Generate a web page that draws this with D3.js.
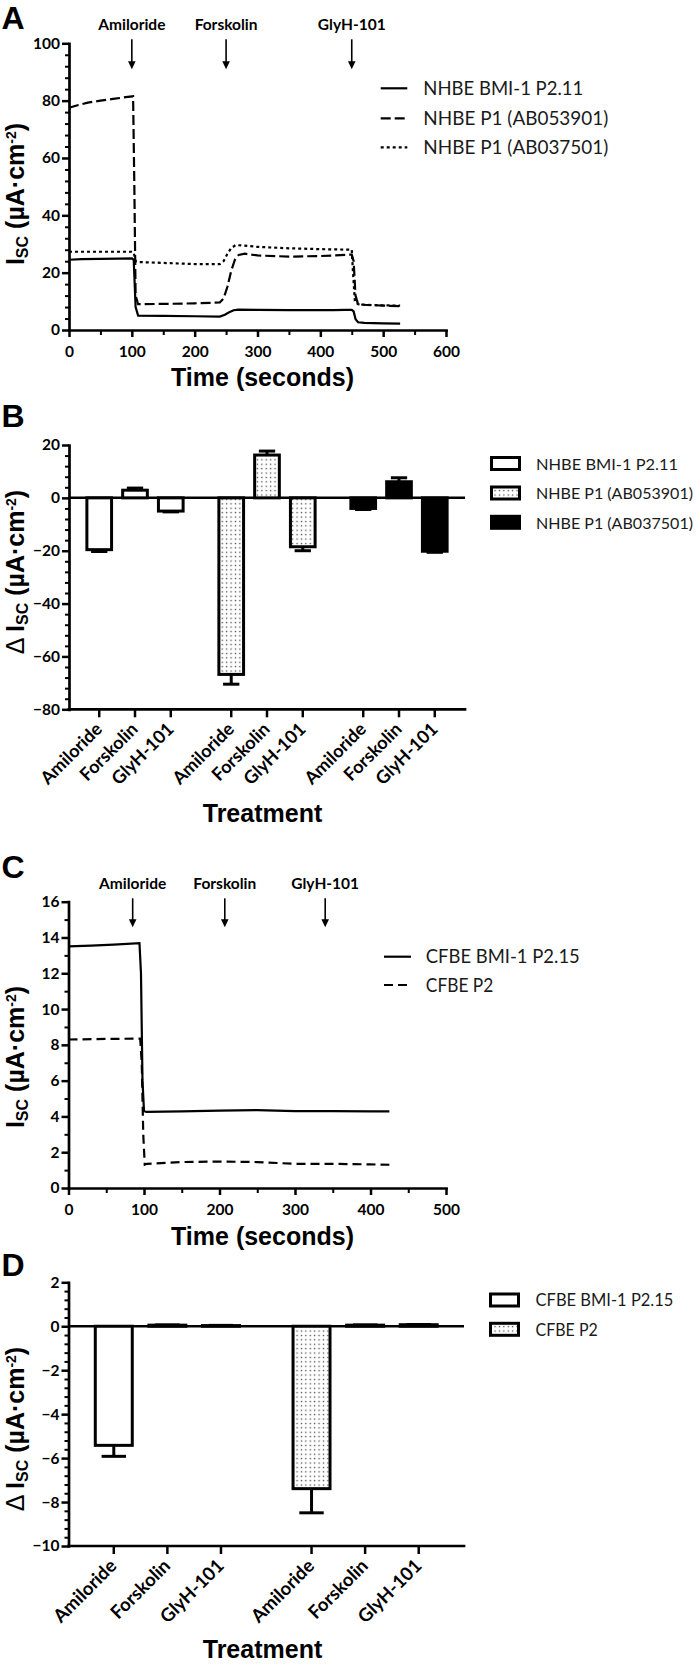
<!DOCTYPE html>
<html><head><meta charset="utf-8">
<script src="https://cdn.jsdelivr.net/npm/d3@7"></script>
<style>
html,body{margin:0;padding:0;background:#fff;}
svg{display:block;}
</style></head><body>
<script>
// ================= DATA =================
const treatments = ["Amiloride", "Forskolin", "GlyH-101"];

// Panel A : Isc traces (time in s, Isc in µA·cm-2)
const seriesA = ["NHBE BMI-1 P2.11", "NHBE P1 (AB053901)", "NHBE P1 (AB037501)"];
const tA_bmi = [0, 20, 50, 80, 100, 103, 106, 110, 150, 200, 240, 248, 255, 262, 270, 300, 350, 400, 420, 440, 450, 453, 456, 460, 470, 500, 527];
const vA_bmi = [24.5, 24.7, 24.8, 24.9, 25.0, 24.5, 8, 5.0, 4.9, 4.8, 4.7, 5.3, 6.2, 6.9, 7.1, 7.0, 6.9, 6.9, 6.9, 7.0, 7.0, 6.5, 3.8, 2.7, 2.5, 2.3, 2.2];
const tA_053 = [0, 15, 30, 50, 70, 90, 102, 104, 106, 110, 150, 200, 240, 246, 252, 258, 264, 270, 280, 300, 350, 400, 440, 450, 453, 456, 460, 470, 500, 527];
const vA_053 = [77.5, 78.5, 79.3, 80.0, 80.6, 81.2, 81.5, 50, 12, 9.0, 9.1, 9.3, 9.6, 11, 15, 20.5, 24.5, 26.2, 26.6, 26.0, 25.6, 25.8, 26.2, 26.3, 24, 12, 9.0, 8.8, 8.5, 8.3];
const tA_037 = [0, 50, 100, 103, 106, 110, 150, 200, 240, 246, 252, 258, 265, 275, 300, 350, 400, 450, 452, 455, 460, 470, 500, 527];
const vA_037 = [27.3, 27.3, 27.3, 27.0, 24.0, 23.7, 23.4, 23.0, 23.0, 24.0, 26.5, 28.5, 29.6, 29.5, 29.0, 28.5, 28.2, 28.0, 20, 10, 9.0, 8.8, 8.6, 8.5];
const eventsA = [100, 250, 450];
const ticksA_x = [0, 100, 200, 300, 400, 500, 600];
const ticksA_y = [0, 20, 40, 60, 80, 100];

// Panel B : ΔIsc bars
const seriesB = ["NHBE BMI-1 P2.11", "NHBE P1 (AB053901)", "NHBE P1 (AB037501)"];
const meanB_bmi = [-19.6, 2.9, -5.0];
const errB_bmi  = [0.7, 0.8, 0.3];
const meanB_053 = [-66.8, 16.2, -18.5];
const errB_053  = [3.7, 1.5, 1.5];
const meanB_037 = [-4.0, 6.1, -20.2];
const errB_037  = [0.4, 1.5, 0.4];
const ticksB_y = [-80, -60, -40, -20, 0, 20];

// Panel C : Isc traces
const seriesC = ["CFBE BMI-1 P2.15", "CFBE P2"];
const tC_bmi = [0, 30, 60, 94, 96, 98, 100, 103, 150, 200, 250, 300, 350, 400, 425];
const vC_bmi = [13.5, 13.55, 13.6, 13.68, 12, 6, 4.3, 4.25, 4.28, 4.32, 4.35, 4.3, 4.3, 4.28, 4.28];
const tC_p2 = [0, 50, 95, 97, 99, 101, 104, 150, 200, 250, 300, 350, 400, 425];
const vC_p2 = [8.3, 8.33, 8.35, 7, 3, 1.3, 1.35, 1.45, 1.48, 1.45, 1.35, 1.35, 1.32, 1.3];
const eventsC = [85, 207, 340];
const ticksC_x = [0, 100, 200, 300, 400, 500];
const ticksC_y = [0, 2, 4, 6, 8, 10, 12, 14, 16];

// Panel D : ΔIsc bars
const seriesD = ["CFBE BMI-1 P2.15", "CFBE P2"];
const meanD_bmi = [-5.42, 0.05, 0.03];
const errD_bmi  = [0.5, 0.01, 0.01];
const meanD_p2  = [-7.39, 0.05, 0.07];
const errD_p2   = [1.1, 0.01, 0.01];
const ticksD_y = [-10, -8, -6, -4, -2, 0, 2];

// ================= DRAWING =================
const W = 697, H = 1665;
const SANS = "Lato, 'Open Sans', sans-serif";
const ARIAL = "'Liberation Sans', Arial, Helvetica, sans-serif";
const svg = d3.select("body").append("svg").attr("width", W).attr("height", H)
  .attr("viewBox", `0 0 ${W} ${H}`);
svg.append("rect").attr("width", W).attr("height", H).attr("fill", "#fff");

const defs = svg.append("defs");
const pat = defs.append("pattern").attr("id", "dots").attr("width", 4.4).attr("height", 4.4)
  .attr("patternUnits", "userSpaceOnUse");
pat.append("rect").attr("width", 4.4).attr("height", 4.4).attr("fill", "#fff");
pat.append("rect").attr("x", 1.6).attr("y", 1.6).attr("width", 1.3).attr("height", 1.3).attr("fill", "#444");

function range(a, b, s) { const r = []; for (let v = a; v <= b + 1e-9; v += s) r.push(+v.toFixed(4)); return r; }

function styleTickText(sel, size) {
  sel.selectAll("text").attr("font-family", SANS).attr("font-weight", 700)
    .attr("font-size", size).attr("fill", "#000");
}

function leftAxis(x0, y, major, minor) {
  const gm = svg.append("g").attr("transform", `translate(${x0},0)`)
    .call(d3.axisLeft(y).tickValues(minor).tickSize(4).tickFormat("").tickSizeOuter(0));
  gm.select(".domain").remove();
  gm.selectAll("line").attr("stroke", "#000").attr("stroke-width", 2);
  const g = svg.append("g").attr("transform", `translate(${x0},0)`)
    .call(d3.axisLeft(y).tickValues(major).tickSize(7).tickPadding(2).tickSizeOuter(0));
  g.select(".domain").attr("stroke", "#000").attr("stroke-width", 2.7).attr("stroke-linecap", "square");
  g.selectAll("line").attr("stroke", "#000").attr("stroke-width", 2.5);
  styleTickText(g, 15.5);
}

function bottomAxis(y0, x, major, minor) {
  const gm = svg.append("g").attr("transform", `translate(0,${y0})`)
    .call(d3.axisBottom(x).tickValues(minor).tickSize(5).tickFormat("").tickSizeOuter(0));
  gm.select(".domain").remove();
  gm.selectAll("line").attr("stroke", "#000").attr("stroke-width", 2);
  const g = svg.append("g").attr("transform", `translate(0,${y0})`)
    .call(d3.axisBottom(x).tickValues(major).tickSize(7).tickPadding(9).tickSizeOuter(0));
  g.select(".domain").attr("stroke", "#000").attr("stroke-width", 2.7).attr("stroke-linecap", "square");
  g.selectAll("line").attr("stroke", "#000").attr("stroke-width", 2.5);
  styleTickText(g, 15.5);
}

function panelLabel(txt, yb) {
  svg.append("text").attr("x", 1.5).attr("y", yb).text(txt)
    .attr("font-family", ARIAL).attr("font-weight", 700).attr("font-size", 32).attr("fill", "#000");
}

function xTitle(txt, cx, yb) {
  svg.append("text").attr("x", cx).attr("y", yb).attr("text-anchor", "middle").text(txt)
    .attr("font-family", ARIAL).attr("font-weight", 700).attr("font-size", 25).attr("fill", "#000");
}

function yTitle(delta, cx, cy) {
  const t = svg.append("text").attr("transform", `translate(${cx},${cy}) rotate(-90)`)
    .attr("text-anchor", "middle").attr("font-family", ARIAL).attr("font-weight", 700)
    .attr("font-size", 25).attr("fill", "#000");
  if (delta) t.append("tspan").attr("font-weight", 400).text("\u0394 ");
  t.append("tspan").text("I");
  t.append("tspan").attr("font-size", 16).attr("dy", 4).text("SC");
  t.append("tspan").attr("dy", -4).text(" (\u00b5A\u00b7cm");
  t.append("tspan").attr("font-size", 14).attr("dy", -8).text("-2");
  t.append("tspan").attr("dy", 8).text(")");
}

function arrows(events, x, yLab, y0, y1) {
  events.forEach((ev, i) => {
    const xx = x(ev);
    svg.append("text").attr("x", xx).attr("y", yLab).attr("text-anchor", "middle").text(treatments[i])
      .attr("font-family", SANS).attr("font-weight", 700).attr("font-size", 15.5).attr("fill", "#000");
    svg.append("line").attr("x1", xx).attr("x2", xx).attr("y1", y0).attr("y2", y1 - 6)
      .attr("stroke", "#000").attr("stroke-width", 1.6);
    svg.append("path").attr("d", `M${xx - 3.8},${y1 - 8} L${xx + 3.8},${y1 - 8} L${xx},${y1} Z`).attr("fill", "#000");
  });
}

function legendText(x, yb, txt, len, size) {
  svg.append("text").attr("x", x).attr("y", yb).text(txt)
    .attr("font-family", SANS).attr("font-size", size).attr("fill", "#1a1a1a")
    .attr("textLength", len).attr("lengthAdjust", "spacingAndGlyphs");
}

const DASH = "10,4", DOT = "3,3";

// ---------- Panel A ----------
{
  const x = d3.scaleLinear().domain([0, 600]).range([69, 446]);
  const y = d3.scaleLinear().domain([0, 100]).range([330, 43.3]);
  const line = d3.line().x(d => x(d[0])).y(d => y(d[1]));
  const sets = [[tA_bmi, vA_bmi, null], [tA_053, vA_053, DASH], [tA_037, vA_037, DOT]];
  sets.forEach(([t, v, dash]) => {
    svg.append("path").datum(d3.zip(t, v)).attr("d", line).attr("fill", "none")
      .attr("stroke", "#000").attr("stroke-width", 2.2).attr("stroke-dasharray", dash);
  });
  leftAxis(69, y, ticksA_y, range(0, 100, 4).filter(v => v % 20 !== 0));
  bottomAxis(330, x, ticksA_x, range(50, 550, 100));
  arrows(eventsA, x, 30, 39.3, 69.3);
  panelLabel("A", 29);
  xTitle("Time (seconds)", 262.5, 386);
  yTitle(false, 23.5, 194);
  const rows = [88.3, 118.3, 147.3], lens = [160, 185, 185];
  seriesA.forEach((s, i) => {
    svg.append("line").attr("x1", 380.7).attr("x2", 407.3).attr("y1", rows[i]).attr("y2", rows[i])
      .attr("stroke", "#000").attr("stroke-width", 2.2).attr("stroke-dasharray", sets[i][2]);
    legendText(423.3, rows[i] + 6.7, s, lens[i], 18.5);
  });
}

// ---------- bar panel helper ----------
function barPanel(opts) {
  const { series, means, errs, fills, xr, y, yAxisY, ticksY, minorY, labelSize } = opts;
  const xg = d3.scaleBand().domain(series).range(xr).paddingInner(0).paddingOuter(0);
  const xt = d3.scaleBand().domain(treatments).range([0, xg.bandwidth()]).paddingInner(0.31).paddingOuter(0.5);
  svg.append("line").attr("x1", xr[0]).attr("x2", xr[1]).attr("y1", y(0)).attr("y2", y(0))
    .attr("stroke", "#000").attr("stroke-width", 2.5);
  const bw = xt.bandwidth();
  series.forEach((s, si) => {
    treatments.forEach((tr, ti) => {
      const m = means[si][ti], e = errs[si][ti];
      const x0 = xg(s) + xt(tr), cx = x0 + bw / 2;
      const ye = y(m + (m < 0 ? -e : e));
      svg.append("line").attr("x1", cx).attr("x2", cx).attr("y1", y(m)).attr("y2", ye)
        .attr("stroke", "#000").attr("stroke-width", 3);
      svg.append("line").attr("x1", cx - bw * 0.33).attr("x2", cx + bw * 0.33).attr("y1", ye).attr("y2", ye)
        .attr("stroke", "#000").attr("stroke-width", 3);
      svg.append("rect").attr("x", x0).attr("width", bw)
        .attr("y", Math.min(y(0), y(m))).attr("height", Math.abs(y(m) - y(0)))
        .attr("fill", fills[si]).attr("stroke", "#000").attr("stroke-width", 3);
      svg.append("line").attr("x1", cx).attr("x2", cx).attr("y1", yAxisY).attr("y2", yAxisY + 8)
        .attr("stroke", "#000").attr("stroke-width", 2.5);
      svg.append("text").attr("transform", `translate(${cx + 4},${yAxisY + 21}) rotate(-45)`)
        .attr("text-anchor", "end").text(tr)
        .attr("font-family", SANS).attr("font-weight", 700).attr("font-size", labelSize).attr("fill", "#000");
    });
  });
  svg.append("line").attr("x1", xr[0]).attr("x2", xr[1]).attr("y1", yAxisY).attr("y2", yAxisY)
    .attr("stroke", "#000").attr("stroke-width", 2.7).attr("stroke-linecap", "square");
  leftAxis(xr[0], y, ticksY, minorY);
  return { xg, xt };
}

// ---------- Panel B ----------
{
  const y = d3.scaleLinear().domain([-80, 20]).range([709.3, 445]);
  const fills = ["#fff", "url(#dots)", "#000"];
  barPanel({
    series: seriesB, means: [meanB_bmi, meanB_053, meanB_037], errs: [errB_bmi, errB_053, errB_037],
    fills, xr: [69, 465], y, yAxisY: 709.3, ticksY: ticksB_y,
    minorY: range(-80, 20, 4).filter(v => v % 20 !== 0), labelSize: 18
  });
  panelLabel("B", 427);
  xTitle("Treatment", 262.5, 821.5);
  yTitle(true, 23.5, 572);
  const rows = [463.5, 493, 522.3], lens = [142, 157, 157];
  seriesB.forEach((s, i) => {
    svg.append("rect").attr("x", 491.5).attr("y", rows[i] - 6).attr("width", 28).attr("height", 12)
      .attr("fill", fills[i]).attr("stroke", "#000").attr("stroke-width", 3);
    legendText(536, rows[i] + 6.2, s, lens[i], 16);
  });
}

// ---------- Panel C ----------
{
  const x = d3.scaleLinear().domain([0, 500]).range([68.5, 446]);
  const y = d3.scaleLinear().domain([0, 16]).range([1188, 901.7]);
  const line = d3.line().x(d => x(d[0])).y(d => y(d[1]));
  const sets = [[tC_bmi, vC_bmi, null], [tC_p2, vC_p2, "9,5"]];
  sets.forEach(([t, v, dash]) => {
    svg.append("path").datum(d3.zip(t, v)).attr("d", line).attr("fill", "none")
      .attr("stroke", "#000").attr("stroke-width", 2.2).attr("stroke-dasharray", dash);
  });
  leftAxis(68.5, y, ticksC_y, range(1, 15, 2));
  bottomAxis(1188, x, ticksC_x, range(50, 450, 100));
  arrows(eventsC, x, 889, 898.3, 927.3);
  panelLabel("C", 877.5);
  xTitle("Time (seconds)", 262.5, 1245);
  yTitle(false, 23.5, 1057);
  const rows = [956.7, 985], lens = [154, 67.5];
  seriesC.forEach((s, i) => {
    svg.append("line").attr("x1", 384).attr("x2", 411).attr("y1", rows[i]).attr("y2", rows[i])
      .attr("stroke", "#000").attr("stroke-width", 2.2).attr("stroke-dasharray", sets[i][2]);
    legendText(425.8, rows[i] + 6.7, s, lens[i], 18.5);
  });
}

// ---------- Panel D ----------
{
  const y = d3.scaleLinear().domain([-10, 2]).range([1546, 1282.3]);
  const fills = ["#fff", "url(#dots)"];
  barPanel({
    series: seriesD, means: [meanD_bmi, meanD_p2], errs: [errD_bmi, errD_p2],
    fills, xr: [68.5, 464], y, yAxisY: 1546, ticksY: ticksD_y,
    minorY: range(-10, 2, 0.4).filter(v => Math.abs(v / 2 - Math.round(v / 2)) > 1e-6), labelSize: 18.5
  });
  panelLabel("D", 1276);
  xTitle("Treatment", 262.5, 1658);
  yTitle(true, 23.5, 1429);
  const rows = [1300, 1329.3], lens = [137.8, 62.2];
  seriesD.forEach((s, i) => {
    svg.append("rect").attr("x", 490.5).attr("y", rows[i] - 6).attr("width", 28).attr("height", 12)
      .attr("fill", fills[i]).attr("stroke", "#000").attr("stroke-width", 3);
    legendText(535.6, rows[i] + 6.4, s, lens[i], 17);
  });
}
</script>
</body></html>
